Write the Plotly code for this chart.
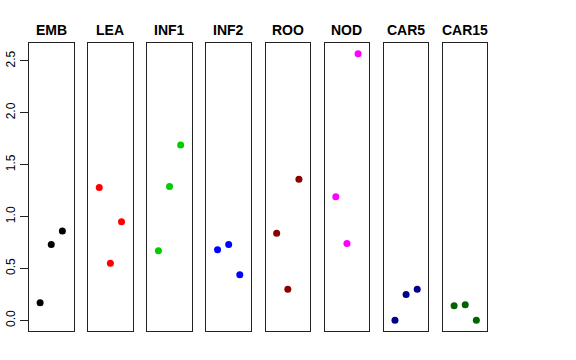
import plotly.graph_objects as go

categories = ["EMB", "LEA", "INF1", "INF2", "ROO", "NOD", "CAR5", "CAR15"]
positions = [1, 2, 3]
emb = [0.17, 0.73, 0.86]
lea = [1.28, 0.55, 0.95]
inf1 = [0.67, 1.29, 1.69]
inf2 = [0.68, 0.73, 0.44]
roo = [0.84, 0.30, 1.36]
nod = [1.19, 0.74, 2.57]
car5 = [0.00, 0.25, 0.30]
car15 = [0.14, 0.15, 0.00]
series = [emb, lea, inf1, inf2, roo, nod, car5, car15]
colors = ["#000000", "#FF0000", "#00CD00", "#0000FF", "#8B0000", "#FF00FF", "#00008B", "#006400"]
ytick_vals = [0.0, 0.5, 1.0, 1.5, 2.0, 2.5]

W, H = 576, 360
left0, pitch, pw = 29, 59.14, 44.5
top, bottom = 43, 331
title_y = 30

vmin = min(min(s) for s in series)
vmax = max(max(s) for s in series)
ext = 0.04 * (vmax - vmin)
yr = [vmin - ext, vmax + ext]

fig = go.Figure()
for i, (cat, vals, col) in enumerate(zip(categories, series, colors)):
    n = i + 1
    xa = "x" if n == 1 else f"x{n}"
    ya = "y" if n == 1 else f"y{n}"
    fig.add_trace(go.Scatter(x=positions, y=vals, mode="markers",
                             marker=dict(color=col, size=7),
                             xaxis=xa, yaxis=ya, showlegend=False, hoverinfo="skip"))
    x0 = (left0 + i * pitch) / W
    x1 = (left0 + i * pitch + pw) / W
    xkey = "xaxis" if n == 1 else f"xaxis{n}"
    ykey = "yaxis" if n == 1 else f"yaxis{n}"
    fig.layout[xkey] = dict(domain=[x0, x1], range=[0, 4], showgrid=False, zeroline=False,
                            showticklabels=False, ticks="", showline=True, mirror=True,
                            linecolor="#222222", linewidth=1, anchor=ya, fixedrange=True,
                            automargin=False)
    ydict = dict(domain=[(H - bottom) / H, (H - top) / H], range=yr, showgrid=False,
                 zeroline=False, showline=True, mirror=True, linecolor="#222222",
                 linewidth=1, anchor=xa, fixedrange=True, automargin=False)
    if n == 1:
        ydict.update(tickvals=ytick_vals, tickformat=".1f", ticks="outside", ticklen=8,
                     tickcolor="#222222", tickangle=-90,
                     tickfont=dict(family="Liberation Sans, Arial, sans-serif", size=12, color="#000000"))
    else:
        ydict.update(showticklabels=False, ticks="")
    fig.layout[ykey] = ydict
    fig.add_annotation(x=(x0 + x1) / 2, y=(H - title_y) / H, xref="paper", yref="paper",
                       text=f"<b>{cat}</b>", showarrow=False,
                       font=dict(family="Liberation Sans, Arial, sans-serif", size=14, color="#000000"),
                       xanchor="center", yanchor="middle")

fig.update_layout(width=W, height=H, margin=dict(l=0, r=0, t=0, b=0),
                  paper_bgcolor="white", plot_bgcolor="white")
fig.write_html("out.html", config={"displayModeBar": False},
               post_script="document.body.style.margin='0';document.body.style.overflow='hidden';")
